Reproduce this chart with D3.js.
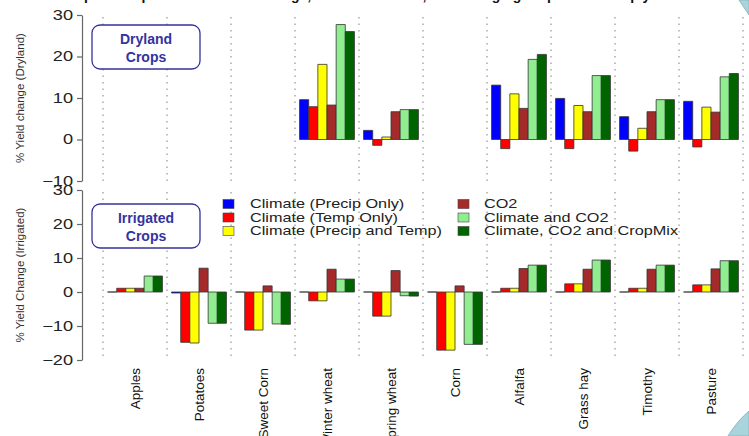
<!DOCTYPE html>
<html><head><meta charset="utf-8">
<script src="https://cdn.jsdelivr.net/npm/d3@7"></script>
<style>
body{margin:0;background:#fff;}
svg{display:block;font-family:"Liberation Sans",Arial,Helvetica,sans-serif;}
</style>
</head><body><svg id="c" width="749" height="436"></svg>
<script>
const categories = ["Apples","Potatoes","Sweet Corn","Winter wheat","Spring wheat","Corn","Alfalfa","Grass hay","Timothy","Pasture"];
const seriesNames = ["Climate (Precip Only)","Climate (Temp Only)","Climate (Precip and Temp)","CO2","Climate and CO2","Climate, CO2 and CropMix"];
const seriesColors = ["#0000ff","#ff0000","#ffff00","#a52a2a","#90ee90","#006400"];

// Dryland (% yield change); null = not shown
const dryPrecip  = [null,null,null, 9.6, 2.2,null,13.1, 9.9, 5.5, 9.2];
const dryTemp    = [null,null,null, 7.9,-1.4,null,-2.2,-2.2,-2.8,-1.8];
const dryBoth    = [null,null,null,18.1, 0.6,null,11.0, 8.2, 2.7, 7.8];
const dryCO2     = [null,null,null, 8.3, 6.7,null, 7.5, 6.7, 6.7, 6.6];
const dryClimCO2 = [null,null,null,27.7, 7.2,null,19.3,15.4, 9.6,15.1];
const dryMix     = [null,null,null,26.0, 7.2,null,20.5,15.4, 9.6,15.9];

// Irrigated (% yield change)
const irrPrecip  = [0,-0.3,0,0,0,0,0,0,0,0];
const irrTemp    = [1.1,-14.8,-11.2,-2.6,-7.1,-17.1,1.1,2.4,1.1,2.1];
const irrBoth    = [1.1,-15.0,-11.2,-2.6,-7.1,-17.1,1.1,2.4,1.1,2.1];
const irrCO2     = [1.1,  7.0,  1.8, 6.7, 6.3,  1.8,6.9,6.7,6.7,6.8];
const irrClimCO2 = [4.7, -9.2, -9.4, 3.8,-1.1,-15.4,7.9,9.4,7.9,9.2];
const irrMix     = [4.7, -9.2, -9.5, 3.8,-1.2,-15.4,7.9,9.4,7.9,9.2];

const dryTicks = [-10,0,10,20,30];
const irrTicks = [-20,-10,0,10,20,30];
const dryTitle = "% Yield change (Dryland)";
const irrTitle = "% Yield Change (Irrigated)";
const chartTitle = "Impacts of plausible climate change, CO2 fertilization, and changing crop mix on crop yields";

const drySeries = [dryPrecip,dryTemp,dryBoth,dryCO2,dryClimCO2,dryMix];
const irrSeries = [irrPrecip,irrTemp,irrBoth,irrCO2,irrClimCO2,irrMix];

const svg = d3.select("#c");
const axisX = 82;
const x = d3.scaleBand().domain(categories).range([103,743]);
const step = x.step();
const inner = d3.scaleBand().domain(seriesNames).range([step/14, step - step/14]);

// decorative slide corners
svg.append("path").attr("d","M739,0 L749,0 L749,15 Z").attr("fill","#a9d4dc").attr("stroke","#8fb8c0");
svg.append("path").attr("d","M728,436 Q738,420 749,411 L749,436 Z").attr("fill","#a9d4dc").attr("stroke","#8fb8c0");

// clipped title at top
svg.append("text").attr("x",375).attr("y",0).attr("text-anchor","middle")
  .attr("font-size",14).attr("font-weight","bold").attr("fill","#111").text(chartTitle);

function panel(y, ticks, series, title, titleY){
  const g = svg.append("g");
  const bounds = categories.map(c => x(c)).concat([x.range()[1]]);
  g.selectAll("line.grid").data(bounds).join("line")
    .attr("x1",d=>d).attr("x2",d=>d)
    .attr("y1",y.range()[1]+2).attr("y2",y.range()[0])
    .attr("stroke","#aaaaaa").attr("stroke-width",1.5).attr("stroke-dasharray","1.5,5");
  series.forEach((vals,si)=>{
    vals.forEach((v,ci)=>{
      if(v===null) return;
      const bx = x(categories[ci]) + inner(seriesNames[si]);
      const bw = inner.bandwidth();
      const y0 = y(0), y1 = y(v);
      g.append("path")
        .attr("d",`M${bx},${y0}H${bx+bw}V${y1}H${bx}Z`)
        .attr("fill",seriesColors[si]).attr("stroke","#333").attr("stroke-width",0.8);
    });
  });
  const ax = g.append("g").attr("transform",`translate(${axisX},0)`)
    .call(d3.axisLeft(y).tickValues(ticks).tickSize(5).tickSizeOuter(0).tickPadding(4).tickFormat(d3.format("d")));
  ax.select(".domain").attr("stroke","#666").attr("stroke-width",1.2);
  ax.selectAll(".tick line").attr("stroke","#666").attr("stroke-width",1.2);
  ax.selectAll(".tick text").attr("font-size",14).attr("fill","#222")
    .attr("font-family","'Liberation Sans',Arial,sans-serif")
    .each(function(){
      const t = d3.select(this);
      const xx = +t.attr("x");
      t.attr("x",null).attr("transform",`translate(${xx},0) scale(1.3,1)`);
    });
  g.append("text").attr("transform",`translate(20,${titleY}) rotate(-90)`)
    .attr("text-anchor","middle").attr("dy","0.35em").attr("font-size",11.5).attr("fill","#333").text(title);
}

const yDry = d3.scaleLinear().domain([-10,30]).range([181,15]);
const yIrr = d3.scaleLinear().domain([-20,30]).range([360,190]);
panel(yDry, dryTicks, drySeries, dryTitle, 98);
panel(yIrr, irrTicks, irrSeries, irrTitle, 275);

svg.selectAll("text.cat").data(categories).join("text").attr("class","cat")
  .attr("transform",d=>`translate(${x(d)+step/2},368) rotate(-90)`)
  .attr("text-anchor","end").attr("dy","0.35em").attr("font-size",13.5).attr("fill","#111").text(d=>d);

function box(y, lines){
  svg.append("rect").attr("x",92).attr("y",y).attr("width",108).attr("height",44).attr("rx",8)
    .attr("fill","#fff").attr("stroke","#333399").attr("stroke-width",1.3);
  lines.forEach((l,i)=>{
    svg.append("text").attr("x",146).attr("y",y+19+i*18).attr("text-anchor","middle")
      .attr("font-size",14).attr("font-weight","bold").attr("fill","#3333a0").text(l);
  });
}
box(25, ["Dryland","Crops"]);
box(204, ["Irrigated","Crops"]);

const legX = [223, 458], legY = [204, 217.5, 231];
seriesNames.forEach((s,i)=>{
  const col = Math.floor(i/3), row = i%3;
  const lx = legX[col], ly = legY[row];
  svg.append("rect").attr("x",lx).attr("y",ly-4.5).attr("width",11).attr("height",9)
    .attr("fill",seriesColors[i]).attr("stroke","#444").attr("stroke-width",0.6);
  svg.append("text").attr("transform",`translate(${lx+(col===0?27:26)},${ly}) scale(1.3,1)`)
    .attr("dy","0.35em").attr("font-size",12.5).attr("fill","#222").text(s);
});
</script></body></html>
